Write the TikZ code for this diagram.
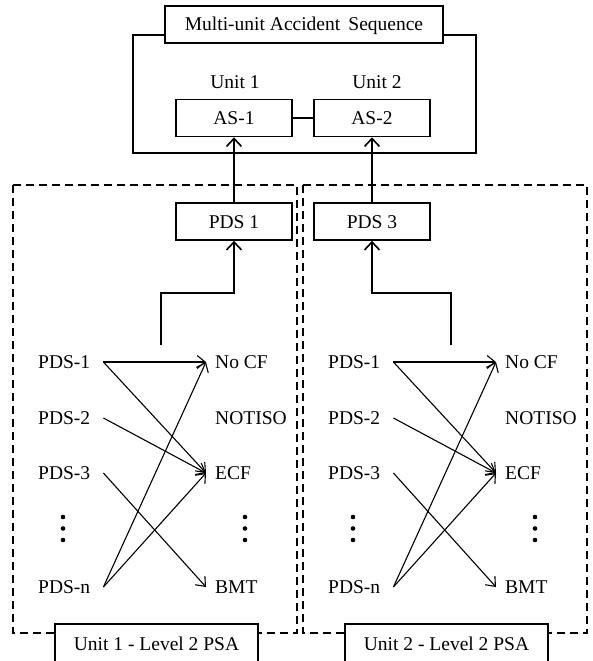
\documentclass[tikz,border=0pt]{standalone}
\usepackage{fontspec}
\setmainfont{Liberation Serif}
\usetikzlibrary{arrows.meta}
\begin{document}
\begin{tikzpicture}[x=1pt,y=-1pt,
  every node/.style={font=\fontsize{19.5}{22}\selectfont},
  box/.style={draw,line width=1.6pt,fill=white,minimum height=37pt,inner sep=0pt,text height=13pt,text depth=0pt},
  plain/.style={inner sep=0pt,text height=13pt,text depth=0pt},
  lbl/.style={plain,anchor=west},
  thickarr/.style={line width=1.6pt,-{Straight Barb[length=8pt,width=15pt]}},
  thinarr/.style={line width=1.1pt,-{Straight Barb[length=8pt,width=13pt]}},
  dashbox/.style={line width=1.5pt,dash pattern=on 8pt off 5pt},
  solid line/.style={line width=1.6pt}]
\useasboundingbox (0,0) rectangle (592,661);
\clip (0,0) rectangle (592,661);
% top part
\draw[solid line] (133,35) rectangle (476,153);
\node[box,minimum width=278pt] (title) at (304,24.5) {Multi-unit Accident\, Sequence};
\node[plain] (u1) at (235,82) {Unit 1};
\node[plain] (u2) at (377,82) {Unit 2};
\node[box,minimum width=116pt] (as1) at (234,118) {AS-1};
\node[box,minimum width=116pt] (as2) at (372,118) {AS-2};
\draw[solid line] (as1) -- (as2);
% lower parts
\foreach \u/\dx in {1/0, 2/290}{
  \begin{scope}[xshift=\dx pt]
    \draw[dashbox] (13,185) rectangle (297,633);
    \node[box,minimum width=203pt,minimum height=40pt] (psa-\u) at (156.5,644) {Unit \u\ - Level 2 PSA};
    \node[lbl] (a1-\u) at (38,362) {PDS-1};
    \node[lbl] (a2-\u) at (38,418) {PDS-2};
    \node[lbl] (a3-\u) at (38,473) {PDS-3};
    \node[lbl] (a5-\u) at (38,587) {PDS-n};
    \node[lbl] (b1-\u) at (215,362) {No CF};
    \node[lbl] (b2-\u) at (215,418) {NOTISO};
    \node[lbl] (b3-\u) at (215,473) {ECF};
    \node[lbl] (b5-\u) at (215,587) {BMT};
    \foreach \yy in {517,528.5,540}{
      \fill (63,\yy) circle (2.3pt);
      \fill (245,\yy) circle (2.3pt);
    }
    \draw[thinarr] ([xshift=13pt]a1-\u.east) -- ([xshift=-9pt]b1-\u.west);
    \draw[thinarr] ([xshift=13pt]a1-\u.east) -- ([xshift=-9pt]b3-\u.west);
    \draw[thinarr] ([xshift=13pt]a2-\u.east) -- ([xshift=-9pt]b3-\u.west);
    \draw[thinarr] ([xshift=13pt]a3-\u.east) -- ([xshift=-9pt]b5-\u.west);
    \draw[thinarr] ([xshift=13pt]a5-\u.east) -- ([xshift=-9pt]b1-\u.west);
    \draw[thinarr] ([xshift=13pt]a5-\u.east) -- ([xshift=-9pt]b3-\u.west);
    \coordinate (s-\u) at (161,345);
    \coordinate (k-\u) at (161,293);
  \end{scope}
}
\node[box,minimum width=116pt] (p1) at (234,221.5) {PDS 1};
\node[box,minimum width=116pt] (p2) at (372,221.5) {PDS 3};
\draw[thickarr] (s-1) -- (k-1) -| (p1.south);
\draw[thickarr] (s-2) -- (k-2) -| (p2.south);
\draw[thickarr] (p1.north) -- (as1.south);
\draw[thickarr] (p2.north) -- (as2.south);
\end{tikzpicture}
\end{document}
